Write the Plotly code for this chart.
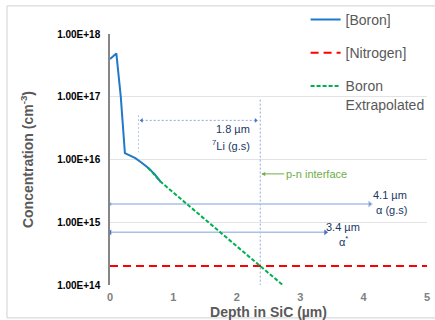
import numpy as np
import plotly.graph_objects as go

# ---- data ----
boron_depth = [0, 0.1, 0.17, 0.2, 0.215, 0.235, 0.3, 0.4, 0.5, 0.6, 0.7, 0.8]
boron_conc = [4.0e17, 4.9e17, 1.0e17, 4.2e16, 2.0e16, 1.26e16, 1.17e16, 1.05e16,
              8.9e15, 7.4e15, 5.9e15, 4.4e15]

extrap_depth = [0.6, 0.8, 1.2, 1.7, 2.37, 2.9]
extrap_conc = [7.4e15, 4.4e15, 2.0e15, 7.4e14, 2.0e14, 7.1e13]

nitrogen_depth = [0, 5]
nitrogen_conc = [2.0e14, 2.0e14]

x_ticks = [0, 1, 2, 3, 4, 5]
y_tickvals = [1e14, 1e15, 1e16, 1e17, 1e18]
y_ticktext = ["1.00E+14", "1.00E+15", "1.00E+16", "1.00E+17", "1.00E+18"]

# annotation reference values (depths in um, levels in cm^-3)
pn_depth = 2.37
pn_line_conc = [9.0e16, 1.0e14]
pn_label_conc = 5.9e15
li_range = [0.5, 2.3]          # 1.8 um
li_level = 4.2e16
li_marker_depth = 0.45
li_marker_conc = [5.1e16, 1.3e16]
alpha_gs_range = [0, 4.1]      # 4.1 um
alpha_gs_level = 1.95e15
alpha_star_range = [0, 3.4]    # 3.4 um
alpha_star_level = 6.9e14

FONT = "Liberation Sans, Arial, sans-serif"
GRAY = "#595959"
NAVY = "#203864"
BLUE = "#1f78c8"
GREEN = "#00b050"
RED = "#ff0000"
ABLUE = "#a9c0e8"
ADARK = "#4472c4"

fig = go.Figure()

# annotation guide lines (drawn first, beneath data)
fig.add_trace(go.Scatter(x=[pn_depth, pn_depth], y=pn_line_conc, mode="lines",
                         line=dict(color="#8eaadb", width=1, dash="2px,2px"),
                         showlegend=False, hoverinfo="skip"))
fig.add_trace(go.Scatter(x=[li_marker_depth, li_marker_depth], y=li_marker_conc, mode="lines",
                         line=dict(color="#b4c7e7", width=1, dash="2px,2px"),
                         showlegend=False, hoverinfo="skip"))
fig.add_trace(go.Scatter(x=li_range, y=[li_level, li_level], mode="lines+markers",
                         line=dict(color="#8eaadb", width=1, dash="2px,2px"),
                         marker=dict(symbol=["triangle-left", "triangle-right"], size=4, color=ADARK),
                         showlegend=False, hoverinfo="skip"))
fig.add_trace(go.Scatter(x=alpha_gs_range, y=[alpha_gs_level] * 2, mode="lines+markers",
                         line=dict(color=ABLUE, width=1.5),
                         marker=dict(symbol=["circle", "triangle-right"], size=[3, 5], color=ADARK),
                         showlegend=False, hoverinfo="skip"))
fig.add_trace(go.Scatter(x=alpha_star_range, y=[alpha_star_level] * 2, mode="lines+markers",
                         line=dict(color=ABLUE, width=1.5),
                         marker=dict(symbol=["triangle-left", "triangle-right"], size=5, color=ADARK),
                         showlegend=False, hoverinfo="skip"))

# data traces
fig.add_trace(go.Scatter(x=boron_depth, y=boron_conc, mode="lines", name="[Boron]",
                         line=dict(color=BLUE, width=2), legendgroup="a"))
fig.add_trace(go.Scatter(x=nitrogen_depth, y=nitrogen_conc, mode="lines", name="[Nitrogen]",
                         line=dict(color=RED, width=2, dash="8px,5px"), legendgroup="b"))
fig.add_trace(go.Scatter(x=extrap_depth, y=extrap_conc, mode="lines", name="Boron<br>Extrapolated",
                         line=dict(color=GREEN, width=2, dash="4px,2px"), legendgroup="c"))

L = np.log10
ann = [
    dict(x=2.24, y=L(li_level) - 0.13, text="1.8 µm", xanchor="right"),
    dict(x=2.24, y=L(li_level) - 0.39, text="<sup>7</sup>Li (g.s)", xanchor="right"),
    dict(x=4.72, y=L(alpha_gs_level) + 0.14, text="4.1 µm", xanchor="right"),
    dict(x=4.72, y=L(alpha_gs_level) - 0.10, text="α (g.s)", xanchor="right"),
    dict(x=3.68, y=L(alpha_star_level) + 0.08, text="3.4 µm", xanchor="center"),
    dict(x=3.68, y=L(alpha_star_level) - 0.13, text="α<sup>*</sup>", xanchor="center"),
]
annotations = []
for a in ann:
    annotations.append(dict(xref="x", yref="y", showarrow=False, yanchor="middle",
                            font=dict(family=FONT, size=11, color=NAVY), **a))
annotations.append(dict(xref="x", yref="y", x=pn_depth, y=L(pn_label_conc),
                        text="p-n interface", showarrow=True, ax=24, ay=0,
                        xanchor="left", arrowhead=2, arrowsize=0.8, arrowwidth=1,
                        arrowcolor="#70ad47", standoff=1,
                        font=dict(family=FONT, size=11, color="#70ad47")))

fig.update_layout(
    width=435, height=320,
    margin=dict(l=110, r=8, t=34, b=35, autoexpand=False),
    paper_bgcolor="white", plot_bgcolor="white",
    font=dict(family=FONT, color=GRAY),
    showlegend=True,
    legend=dict(x=0.617, y=1.120, xanchor="left", yanchor="top",
                bgcolor="rgba(0,0,0,0)", font=dict(family=FONT, size=14, color=GRAY),
                traceorder="grouped", tracegroupgap=12, valign="top"),
    annotations=annotations,
    shapes=[dict(type="rect", xref="paper", yref="paper", x0=-0.325, x1=1.05,
                 y0=-0.131, y1=1.112, line=dict(color="#d0d0d0", width=1), layer="above")],
)
fig.update_xaxes(range=[0, 5], tickvals=x_ticks, showgrid=False, zeroline=False, showline=False,
                 ticks="", automargin=False, ticklabelstandoff=4,
                 tickfont=dict(family=FONT, size=11, color="#808080", weight="bold"),
                 title=dict(text="Depth in SiC (µm)", standoff=6,
                            font=dict(family=FONT, size=14, color=GRAY, weight="bold")))
fig.update_yaxes(type="log", range=[14, 18], tickvals=y_tickvals, ticktext=y_ticktext,
                 showgrid=True, gridcolor="#e3e3e3", gridwidth=1, zeroline=False,
                 showline=True, linecolor="#868686", linewidth=1.5, ticks="",
                 ticklabelstandoff=6, automargin=False,
                 tickfont=dict(family=FONT, size=10, color="black", weight="bold"),
                 title=dict(text="Concentration (cm<sup>-3</sup>)", standoff=20,
                            font=dict(family=FONT, size=14, color=GRAY, weight="bold")))

fig.write_html("out.html", config={"displayModeBar": False},
               post_script="document.body.style.margin='0';")
